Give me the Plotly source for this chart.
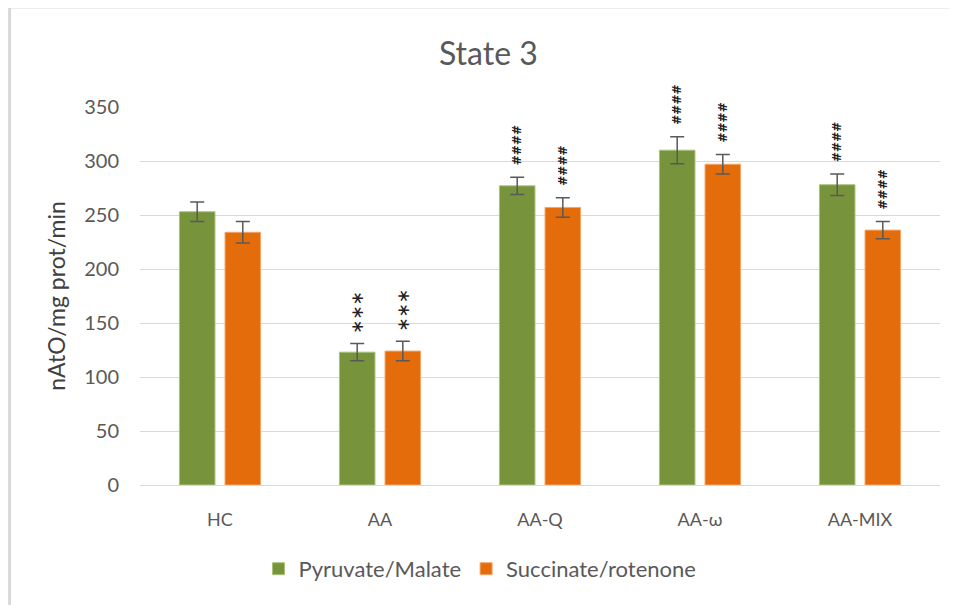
import plotly.graph_objects as go

categories = ["HC", "AA", "AA-Q", "AA-ω", "AA-MIX"]
pm_values = [253, 123, 277, 310, 278]
pm_errors = [9, 8, 8, 12.5, 10]
sr_values = [234, 124, 257, 297, 236]
sr_errors = [10, 9, 9, 9, 8]
pm_marks = ["", "∗∗∗", "####", "####", "####"]
sr_marks = ["", "∗∗∗", "####", "####", "####"]
yticks = [0, 50, 100, 150, 200, 250, 300, 350]

GREEN = "#77933c"
ORANGE = "#e46c0a"
FONT = "Lato"

fig = go.Figure()
fig.add_trace(go.Bar(
    name="Pyruvate/Malate", x=categories, y=pm_values,
    marker=dict(color=GREEN, line=dict(color="#a9c27a", width=1)),
    error_y=dict(type="data", array=pm_errors, color="#595959", thickness=1.5, width=7),
))
fig.add_trace(go.Bar(
    name="Succinate/rotenone", x=categories, y=sr_values,
    marker=dict(color=ORANGE, line=dict(color="#f4a66a", width=1)),
    error_y=dict(type="data", array=sr_errors, color="#595959", thickness=1.5, width=7),
))

annotations = []
for i, c in enumerate(categories):
    for marks, vals, errs, shift in ((pm_marks, pm_values, pm_errors, -23), (sr_marks, sr_values, sr_errors, 23)):
        m = marks[i]
        if not m:
            continue
        star = m.startswith("∗")
        annotations.append(dict(
            x=c, y=vals[i] + errs[i], xref="x", yref="y",
            text=(m if star else "<b>" + m + "</b>"), showarrow=False,
            textangle=-90, xshift=shift, yshift=(7 if star else 10), yanchor="bottom",
            font=dict(family="DejaVu Sans", size=(17 if star else 12), color="#222222"),
        ))

fig.update_layout(
    width=957, height=605,
    margin=dict(l=132, r=25, t=99, b=128),
    paper_bgcolor="white", plot_bgcolor="white",
    font=dict(family=FONT, color="#595959", size=17),
    title=dict(text="State 3", x=0.502, xanchor="center", y=0.925, yanchor="middle",
               font=dict(family=FONT, size=32, color="#595959")),
    barmode="group", bargap=0.43, bargroupgap=0.22,
    showlegend=True,
    legend=dict(orientation="h", x=0.425, xanchor="center", y=-0.222, yanchor="middle",
                font=dict(family=FONT, size=22, color="#595959"), itemwidth=30),
    annotations=annotations,
    xaxis=dict(showline=True, linecolor="#d9d9d9", linewidth=1, ticks="", ticklabelstandoff=18,
               tickfont=dict(family=FONT, size=18, color="#595959")),
    yaxis=dict(range=[0, 350], tickvals=yticks, showgrid=True, gridcolor="#d9d9d9", gridwidth=1,
               zeroline=False, ticks="", ticklabelstandoff=20,
               title=dict(text="nAtO/mg prot/min", font=dict(family=FONT, size=23, color="#404040"), standoff=12),
               tickfont=dict(family=FONT, size=20, color="#595959")),
    shapes=[
        dict(type="line", xref="paper", yref="paper", x0=-0.163, x1=-0.163, y0=-0.5, y1=1.2646,
             line=dict(color="#d9d9d9", width=3)),
        dict(type="line", xref="paper", yref="paper", x0=-0.163, x1=1.2, y0=1.2646, y1=1.2646,
             line=dict(color="#d9d9d9", width=3)),
    ],
)

fig.write_html("out.html")
